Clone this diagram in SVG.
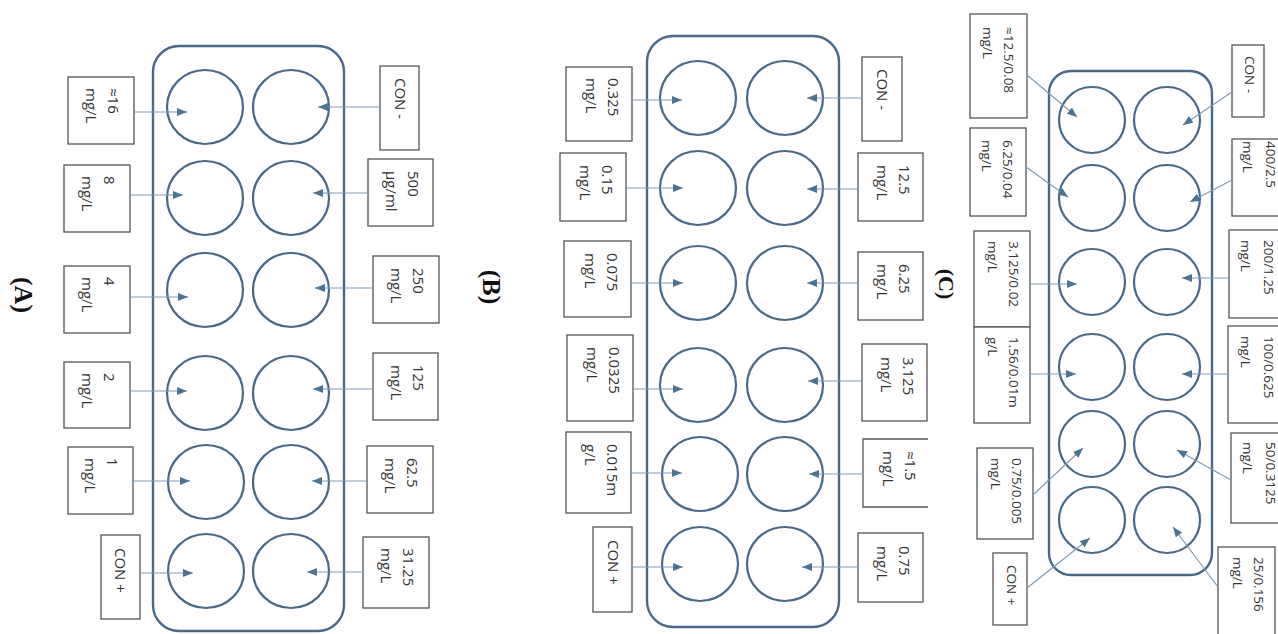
<svg xmlns="http://www.w3.org/2000/svg" width="1278" height="634" viewBox="0 0 1278 634">
<style>
.plate{fill:none;stroke:#48698a;stroke-width:2.4}
.well{fill:none;stroke:#48698a;stroke-width:2.2}
.box{fill:#fff;stroke:#555;stroke-width:1.3}
.open{fill:none;stroke:#555;stroke-width:1.3}
.t{font-family:"Open Sans","Noto Sans",sans-serif;font-size:15px;fill:#333}
.tc{font-family:"Open Sans","Noto Sans",sans-serif;font-size:13.5px;fill:#333}
.cap{font-family:"Liberation Serif",serif;font-weight:bold;font-size:26px;fill:#111;text-anchor:middle}
.conn line{stroke:#7f9bb3;stroke-width:1.2;marker-end:url(#ah)}
</style>
<defs>
<marker id="ah" markerUnits="userSpaceOnUse" markerWidth="11" markerHeight="9" refX="10" refY="4" orient="auto">
<path d="M0,0 L10,4 L0,8 Z" fill="#4b7494"/>
</marker>
</defs>
<rect width="1278" height="634" fill="#fff"/>

<!-- Panel captions -->
<text id="capA" class="cap" transform="translate(15,295) rotate(90)">(A)</text>
<text id="capB" class="cap" transform="translate(483,287) rotate(90)">(B)</text>
<text id="capC" class="cap" style="font-size:22px" transform="translate(939,284) rotate(90)">(C)</text>

<!-- Panel A plate -->
<g id="plateA">
<rect class="plate" x="153" y="46" width="191" height="585" rx="26"/>
<ellipse class="well" cx="205" cy="107" rx="38" ry="37"/>
<ellipse class="well" cx="291" cy="107" rx="38" ry="37"/>
<ellipse class="well" cx="205" cy="198" rx="38" ry="37"/>
<ellipse class="well" cx="291" cy="198" rx="38" ry="37"/>
<ellipse class="well" cx="205" cy="290" rx="38" ry="37"/>
<ellipse class="well" cx="291" cy="290" rx="38" ry="37"/>
<ellipse class="well" cx="205" cy="393" rx="38" ry="37"/>
<ellipse class="well" cx="291" cy="393" rx="38" ry="37"/>
<ellipse class="well" cx="206" cy="482" rx="38" ry="37"/>
<ellipse class="well" cx="291" cy="482" rx="38" ry="37"/>
<ellipse class="well" cx="206" cy="571" rx="38" ry="37"/>
<ellipse class="well" cx="291" cy="571" rx="38" ry="37"/>
</g>

<!-- Panel B plate -->
<g id="plateB">
<rect class="plate" x="647" y="36" width="192" height="591" rx="26"/>
<ellipse class="well" cx="698" cy="98" rx="38" ry="37"/>
<ellipse class="well" cx="785" cy="98" rx="38" ry="37"/>
<ellipse class="well" cx="698" cy="188" rx="38" ry="37"/>
<ellipse class="well" cx="785" cy="188" rx="38" ry="37"/>
<ellipse class="well" cx="698" cy="283" rx="38" ry="37"/>
<ellipse class="well" cx="785" cy="283" rx="38" ry="37"/>
<ellipse class="well" cx="698" cy="385" rx="38" ry="37"/>
<ellipse class="well" cx="785" cy="385" rx="38" ry="37"/>
<ellipse class="well" cx="700" cy="474" rx="38" ry="37"/>
<ellipse class="well" cx="785" cy="474" rx="38" ry="37"/>
<ellipse class="well" cx="700" cy="564" rx="38" ry="37"/>
<ellipse class="well" cx="785" cy="564" rx="38" ry="37"/>
</g>

<!-- Panel C plate -->
<g id="plateC">
<rect class="plate" x="1049" y="71" width="163" height="504" rx="22"/>
<circle class="well" cx="1092" cy="120" r="33"/>
<circle class="well" cx="1167" cy="120" r="33"/>
<circle class="well" cx="1092" cy="198" r="33"/>
<circle class="well" cx="1167" cy="198" r="33"/>
<circle class="well" cx="1092" cy="282" r="33"/>
<circle class="well" cx="1167" cy="282" r="33"/>
<circle class="well" cx="1092" cy="367" r="33"/>
<circle class="well" cx="1167" cy="367" r="33"/>
<circle class="well" cx="1092" cy="444" r="33"/>
<circle class="well" cx="1167" cy="444" r="33"/>
<circle class="well" cx="1092" cy="520" r="33"/>
<circle class="well" cx="1167" cy="520" r="33"/>
</g>

<!-- Panel A labels -->
<g id="A-L1"><rect class="box" x="68" y="77" width="66" height="67"/><text class="t" transform="translate(108,88) rotate(90)"><tspan x="0" y="0">≈16</tspan><tspan x="0" y="22">mg/L</tspan></text></g>
<g id="A-L2"><rect class="box" x="64" y="165" width="66" height="67"/><text class="t" transform="translate(104,176) rotate(90)"><tspan x="0" y="0">8</tspan><tspan x="0" y="22">mg/L</tspan></text></g>
<g id="A-L3"><rect class="box" x="64" y="266" width="66" height="67"/><text class="t" transform="translate(104,277) rotate(90)"><tspan x="0" y="0">4</tspan><tspan x="0" y="22">mg/L</tspan></text></g>
<g id="A-L4"><rect class="box" x="64" y="362" width="66" height="66"/><text class="t" transform="translate(104,373) rotate(90)"><tspan x="0" y="0">2</tspan><tspan x="0" y="22">mg/L</tspan></text></g>
<g id="A-L5"><rect class="box" x="68" y="447" width="65" height="67"/><text class="t" transform="translate(107,458) rotate(90)"><tspan x="0" y="0">1</tspan><tspan x="0" y="22">mg/L</tspan></text></g>
<g id="A-L6"><rect class="box" x="101" y="535" width="39" height="84"/><text class="t" transform="translate(115,548) rotate(90)">CON +</text></g>
<g id="A-R1"><rect class="box" x="380" y="66" width="39" height="84"/><text class="t" transform="translate(395,78) rotate(90)">CON -</text></g>
<g id="A-R2"><rect class="box" x="368" y="159" width="65" height="67"/><text class="t" transform="translate(408,171) rotate(90)"><tspan x="0" y="0">500</tspan><tspan x="0" y="22">µg/ml</tspan></text></g>
<g id="A-R3"><rect class="box" x="373" y="256" width="66" height="67"/><text class="t" transform="translate(413,268) rotate(90)"><tspan x="0" y="0">250</tspan><tspan x="0" y="22">mg/L</tspan></text></g>
<g id="A-R4"><rect class="box" x="373" y="353" width="65" height="67"/><text class="t" transform="translate(413,365) rotate(90)"><tspan x="0" y="0">125</tspan><tspan x="0" y="22">mg/L</tspan></text></g>
<g id="A-R5"><rect class="box" x="367" y="446" width="66" height="67"/><text class="t" transform="translate(407,458) rotate(90)"><tspan x="0" y="0">62.5</tspan><tspan x="0" y="22">mg/L</tspan></text></g>
<g id="A-R6"><rect class="box" x="363" y="537" width="66" height="71"/><text class="t" transform="translate(403,548) rotate(90)"><tspan x="0" y="0">31.25</tspan><tspan x="0" y="22">mg/L</tspan></text></g>

<!-- Panel B labels -->
<g id="B-L1"><rect class="box" x="566" y="67" width="66" height="74"/><text class="t" transform="translate(608,78) rotate(90)"><tspan x="0" y="0">0.325</tspan><tspan x="0" y="22">mg/L</tspan></text></g>
<g id="B-L2"><rect class="box" x="560" y="153" width="66" height="68"/><text class="t" transform="translate(602,165) rotate(90)"><tspan x="0" y="0">0.15</tspan><tspan x="0" y="22">mg/L</tspan></text></g>
<g id="B-L3"><rect class="box" x="564" y="241" width="67" height="76"/><text class="t" transform="translate(607,253) rotate(90)"><tspan x="0" y="0">0.075</tspan><tspan x="0" y="22">mg/L</tspan></text></g>
<g id="B-L4"><rect class="box" x="567" y="335" width="66" height="86"/><text class="t" transform="translate(609,347) rotate(90)"><tspan x="0" y="0">0.0325</tspan><tspan x="0" y="22">mg/L</tspan></text></g>
<g id="B-L5"><rect class="box" x="566" y="432" width="65" height="81"/><text class="t" transform="translate(607,444) rotate(90)"><tspan x="0" y="0">0.015m</tspan><tspan x="0" y="22">g/L</tspan></text></g>
<g id="B-L6"><rect class="box" x="593" y="527" width="39" height="85"/><text class="t" transform="translate(608,540) rotate(90)">CON +</text></g>
<g id="B-R1"><rect class="box" x="862" y="57" width="40" height="84"/><text class="t" transform="translate(877,69) rotate(90)">CON -</text></g>
<g id="B-R2"><rect class="box" x="858" y="153" width="65" height="68"/><text class="t" transform="translate(899,165) rotate(90)"><tspan x="0" y="0">12.5</tspan><tspan x="0" y="22">mg/L</tspan></text></g>
<g id="B-R3"><rect class="box" x="858" y="252" width="65" height="68"/><text class="t" transform="translate(899,264) rotate(90)"><tspan x="0" y="0">6.25</tspan><tspan x="0" y="22">mg/L</tspan></text></g>
<g id="B-R4"><rect class="box" x="862" y="344" width="65" height="77"/><text class="t" transform="translate(903,357) rotate(90)"><tspan x="0" y="0">3.125</tspan><tspan x="0" y="22">mg/L</tspan></text></g>
<g id="B-R5"><path class="open" d="M928,439 H863 V507 H928"/><text class="t" transform="translate(905,451) rotate(90)"><tspan x="0" y="0">≈1.5</tspan><tspan x="0" y="22">mg/L</tspan></text></g>
<g id="B-R6"><rect class="box" x="858" y="533" width="65" height="69"/><text class="t" transform="translate(899,546) rotate(90)"><tspan x="0" y="0">0.75</tspan><tspan x="0" y="22">mg/L</tspan></text></g>

<!-- Panel C labels -->
<g id="C-L1"><rect class="box" x="970" y="14" width="57" height="104"/><text class="tc" transform="translate(1004,27) rotate(90)"><tspan x="0" y="0">≈12.5/0.08</tspan><tspan x="0" y="21">mg/L</tspan></text></g>
<g id="C-L2"><rect class="box" x="970" y="128" width="56" height="88"/><text class="tc" transform="translate(1003,140) rotate(90)"><tspan x="0" y="0">6.25/0.04</tspan><tspan x="0" y="21">mg/L</tspan></text></g>
<g id="C-L3"><rect class="box" x="974" y="231" width="56" height="96"/><text class="tc" transform="translate(1009,241) rotate(90)"><tspan x="0" y="0">3.125/0.02</tspan><tspan x="0" y="21">mg/L</tspan></text></g>
<g id="C-L4"><rect class="box" x="974" y="327" width="56" height="96"/><text class="tc" transform="translate(1009,337) rotate(90)"><tspan x="0" y="0">1.56/0.01m</tspan><tspan x="0" y="21">g/L</tspan></text></g>
<g id="C-L5"><rect class="box" x="977" y="448" width="56" height="91"/><text class="tc" transform="translate(1012,458) rotate(90)"><tspan x="0" y="0">0.75/0.005</tspan><tspan x="0" y="21">mg/L</tspan></text></g>
<g id="C-L6"><rect class="box" x="993" y="553" width="34" height="72"/><text class="tc" transform="translate(1007,565) rotate(90)">CON +</text></g>
<g id="C-R1"><rect class="box" x="1232" y="45" width="32" height="72"/><text class="tc" transform="translate(1245,56) rotate(90)">CON -</text></g>
<g id="C-R2"><rect class="box" x="1232" y="139" width="60" height="77"/><text class="tc" transform="translate(1266,141) rotate(90)"><tspan x="0" y="0">400/2.5</tspan><tspan x="0" y="23">mg/L</tspan></text></g>
<g id="C-R3"><rect class="box" x="1229" y="230" width="60" height="88"/><text class="tc" transform="translate(1264,240) rotate(90)"><tspan x="0" y="0">200/1.25</tspan><tspan x="0" y="23">mg/L</tspan></text></g>
<g id="C-R4"><rect class="box" x="1228" y="326" width="60" height="97"/><text class="tc" transform="translate(1264,336) rotate(90)"><tspan x="0" y="0">100/0.625</tspan><tspan x="0" y="23">mg/L</tspan></text></g>
<g id="C-R5"><rect class="box" x="1231" y="433" width="60" height="90"/><text class="tc" transform="translate(1266,442) rotate(90)"><tspan x="0" y="0">50/0.3125</tspan><tspan x="0" y="23">mg/L</tspan></text></g>
<g id="C-R6"><rect class="box" x="1218" y="547" width="57" height="100"/><text class="tc" transform="translate(1254,557) rotate(90)"><tspan x="0" y="0">25/0.156</tspan><tspan x="0" y="21">mg/L</tspan></text></g>

<!-- Connectors -->
<g id="connectors" class="conn">
<line x1="134" y1="112" x2="187" y2="112"/>
<line x1="130" y1="195" x2="183" y2="195"/>
<line x1="130" y1="297" x2="188" y2="297"/>
<line x1="130" y1="391" x2="187" y2="391"/>
<line x1="133" y1="481" x2="190" y2="481"/>
<line x1="140" y1="573" x2="193" y2="573"/>
<line x1="380" y1="107" x2="318" y2="107"/>
<line x1="368" y1="193" x2="313" y2="193"/>
<line x1="373" y1="288" x2="315" y2="288"/>
<line x1="373" y1="389" x2="313" y2="389"/>
<line x1="367" y1="481" x2="312" y2="481"/>
<line x1="363" y1="572" x2="307" y2="572"/>

<line x1="632" y1="100" x2="682" y2="100"/>
<line x1="626" y1="188" x2="683" y2="188"/>
<line x1="631" y1="283" x2="683" y2="283"/>
<line x1="633" y1="389" x2="683" y2="389"/>
<line x1="631" y1="473" x2="682" y2="473"/>
<line x1="632" y1="567" x2="683" y2="567"/>
<line x1="862" y1="98" x2="807" y2="98"/>
<line x1="858" y1="189" x2="807" y2="189"/>
<line x1="858" y1="283" x2="807" y2="283"/>
<line x1="862" y1="381" x2="808" y2="381"/>
<line x1="863" y1="474" x2="809" y2="474"/>
<line x1="858" y1="567" x2="802" y2="567"/>

<line x1="1027" y1="75" x2="1077" y2="117"/>
<line x1="1026" y1="167" x2="1068" y2="197"/>
<line x1="1030" y1="284" x2="1077" y2="284"/>
<line x1="1030" y1="374" x2="1076" y2="374"/>
<line x1="1033" y1="495" x2="1083" y2="448"/>
<line x1="1027" y1="588" x2="1090" y2="538"/>
<line x1="1232" y1="92" x2="1183" y2="125"/>
<line x1="1232" y1="180" x2="1190" y2="202"/>
<line x1="1229" y1="278" x2="1182" y2="278"/>
<line x1="1228" y1="374" x2="1182" y2="374"/>
<line x1="1231" y1="480" x2="1177" y2="450"/>
<line x1="1218" y1="587" x2="1173" y2="527"/>
</g>
</svg>
